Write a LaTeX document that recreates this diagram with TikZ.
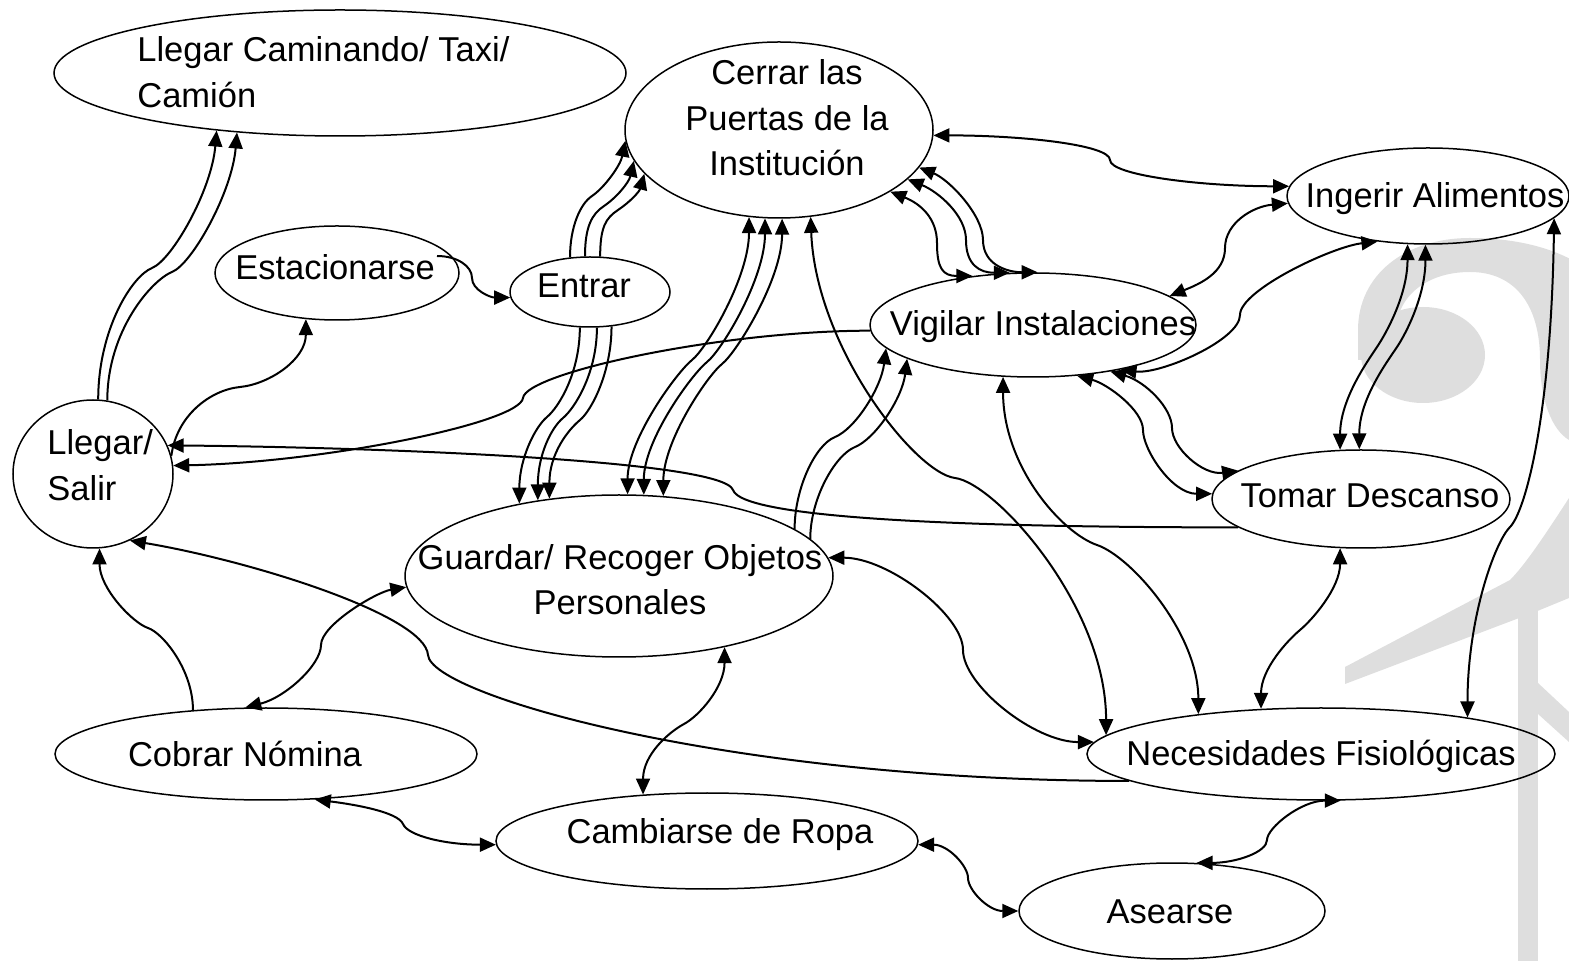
\documentclass[tikz,border=0pt]{standalone}
\usepackage{fontspec}
\setmainfont{Liberation Sans}
\usetikzlibrary{shapes.geometric,arrows.meta}
\definecolor{wm}{RGB}{222,222,222}
\begin{document}
\begin{tikzpicture}[x=0.5pt,y=-0.5pt,
  state/.style={draw,ellipse,line width=0.75pt,inner sep=0pt},
  lbl/.style={anchor=base,inner sep=0pt,font=\fontsize{17.25pt}{23pt}\selectfont},
  lblw/.style={lbl,anchor=base west},
  link/.style={line width=1pt,line join=round},
  one/.style={link,-{Triangle[length=8pt,width=7pt]}},
  two/.style={link,{Triangle[length=8pt,width=7pt]}-{Triangle[length=8pt,width=7pt]}}]
\useasboundingbox (0,0) rectangle (1569,961);

% light watermark figure on the right
\begin{scope}
\clip (0,0) rectangle (1569,961);
% head: ring open to the right
\fill[wm] (1358,360) -- (1358,330) .. controls (1358,275) and (1405,238) .. (1470,238)
  .. controls (1520,238) and (1569,250) .. (1600,280) -- (1600,440) -- (1569,440)
  .. controls (1552,430) and (1540,400) .. (1540,360)
  .. controls (1540,305) and (1515,272) .. (1470,272)
  .. controls (1425,272) and (1396,298) .. (1396,332) -- (1396,360) -- cycle;
\fill[wm] (1423,355) ellipse [x radius=31pt,y radius=24pt];
% tail
\fill[wm] (1569,498) .. controls (1545,535) and (1525,565) .. (1510,580) -- (1345,667)
  -- (1345,684) -- (1535,612) -- (1569,598) -- cycle;
% stem
\fill[wm] (1518,592) rectangle (1538,961);
\fill[wm] (1538,683) -- (1569,712) -- (1569,742) -- (1538,714) -- cycle;
\end{scope}

% activities
\node[state,minimum width=286pt,minimum height=63pt] (lc) at (340,73) {};
\node[state,minimum width=154pt,minimum height=88pt] (cp) at (779,130) {};
\node[state,minimum width=122pt,minimum height=47pt] (es) at (337,273) {};
\node[state,minimum width=80pt,minimum height=35pt] (en) at (590,292) {};
\node[state,minimum width=141pt,minimum height=48pt] (ia) at (1428,196) {};
\node[state,minimum width=163pt,minimum height=52pt] (vi) at (1033,325) {};
\node[state,minimum width=80pt,minimum height=74pt] (ls) at (93,474) {};
\node[state,minimum width=149pt,minimum height=49pt] (td) at (1361,499) {};
\node[state,minimum width=214pt,minimum height=81pt] (gr) at (619,576) {};
\node[state,minimum width=211pt,minimum height=46pt] (cn) at (266,754) {};
\node[state,minimum width=211pt,minimum height=48pt] (cr) at (707,841) {};
\node[state,minimum width=234pt,minimum height=46pt] (nf) at (1321,754) {};
\node[state,minimum width=153pt,minimum height=48pt] (ase) at (1172,911) {};

% labels
\node[lblw] (t-lc-1) at (137,62) {Llegar Caminando/ Taxi/};
\node[lblw] (t-lc-2) at (137,108) {Camión};
\node[lbl] (t-cp-1) at (787,85) {Cerrar las};
\node[lbl] (t-cp-2) at (787,131) {Puertas de la};
\node[lbl] (t-cp-3) at (787,176) {Institución};
\node[lbl] (t-es) at (335,280) {Estacionarse};
\node[lbl] (t-en) at (584,298) {Entrar};
\node[lbl] (t-ia) at (1435,208) {Ingerir Alimentos};
\node[lbl] (t-vi) at (1043,336) {Vigilar Instalaciones};
\node[lblw] (t-ls-1) at (47,455) {Llegar/};
\node[lblw] (t-ls-2) at (47,501) {Salir};
\node[lbl] (t-td) at (1370,508) {Tomar Descanso};
\node[lbl] (t-gr-1) at (620,570) {Guardar/ Recoger Objetos};
\node[lbl] (t-gr-2) at (620,615) {Personales};
\node[lbl] (t-cn) at (245,767) {Cobrar Nómina};
\node[lbl] (t-cr) at (720,843) {Cambiarse de Ropa};
\node[lbl] (t-nf) at (1321,766) {Necesidades Fisiológicas};
\node[lbl] (t-ase) at (1170,923) {Asearse};

% connectors
\draw[one] (ls.86) .. controls +(0,-70) and +(-20,8) .. (152,268) .. controls +(20,-8) and +(-5,60) .. (lc.-155);
\draw[one] (ls.79) .. controls +(0,-70) and +(-20,8) .. (172,272) .. controls +(20,-8) and +(-5,60) .. (lc.-150);
\draw[one] (ls.13) .. controls +(5,-40) and +(-30,3) .. (240,387) .. controls +(30,-3) and +(0,40) .. (es.-124);
\draw[one] ([shift={(100,-17)}]es.center) .. controls +(20,0) and +(0,-12) .. (472,278) .. controls +(0,12) and +(-20,0) .. (en.184);

\draw[one] (en.120) .. controls +(0,-30) and +(-12,8) .. (592,196) .. controls +(12,-8) and +(-5,25) .. (cp.-176);
\draw[one] (en.98) .. controls +(0,-30) and +(-12,8) .. (604,206) .. controls +(12,-8) and +(-5,22) .. (cp.-168);
\draw[one] (en.74) .. controls +(0,-30) and +(-12,8) .. (618,210) .. controls +(12,-8) and +(-5,18) .. (cp.-162);

\draw[one] (en.-106) .. controls +(0,45) and +(12,-10) .. (547,417) .. controls +(-12,10) and +(0,-45) .. (gr.144.7);
\draw[one] (en.-79) .. controls +(0,45) and +(12,-10) .. (563,418) .. controls +(-12,10) and +(0,-45) .. (gr.137.6);
\draw[one] (en.-58) .. controls +(0,45) and +(12,-10) .. (580,420) .. controls +(-12,10) and +(0,-45) .. (gr.132);

\draw[two] (cp.-109.8) .. controls +(0,60) and +(15,-12) .. (692,360) .. controls +(-15,12) and +(0,-55) .. (gr.84.4);
\draw[two] (cp.-99.7) .. controls +(0,60) and +(15,-12) .. (707,362) .. controls +(-15,12) and +(0,-55) .. (gr.73.4);
\draw[two] (cp.-88.7) .. controls +(0,60) and +(15,-12) .. (722,364) .. controls +(-15,12) and +(0,-55) .. (gr.61.5);

\draw[two] (cp.-70.8) .. controls +(5,130) and +(-40,-5) .. (955,478) .. controls +(40,5) and +(0,-130) .. (nf.175);
\draw[two] (vi.-120.4) .. controls +(0,90) and +(-35,-12) .. (1097,545) .. controls +(35,12) and +(0,-80) .. (nf.162.5);
\draw[two] (gr.5.2) .. controls +(60,0) and +(0,-35) .. (963,650) .. controls +(0,35) and +(-60,0) .. (nf.177.4);

\draw[two] (cp.-15.5) .. controls +(30,12) and +(0,-25) .. (983,240) .. controls +(0,25) and +(-30,0) .. (vi.85.6);
\draw[two] (cp.-21.9) .. controls +(30,12) and +(0,-25) .. (966,240) .. controls +(0,25) and +(-30,0) .. (vi.114);
\draw[two] (cp.-29.6) .. controls +(30,12) and +(0,-25) .. (937,243) .. controls +(0,25) and +(-30,0) .. (vi.141);

\draw[two] (cp.-2) .. controls +(90,0) and +(0,-15) .. (1110,160) .. controls +(0,15) and +(-90,0) .. (ia.176);
\draw[two] (ia.-177) .. controls +(-35,3) and +(0,-25) .. (1225,248) .. controls +(0,25) and +(30,-12) .. (vi.12.4);
\draw[two] (vi.-27) .. controls +(40,5) and +(0,25) .. (1240,315) .. controls +(0,-25) and +(-45,5) .. (ia.-138);

\draw[two] (vi.-49.6) .. controls +(30,8) and +(0,-20) .. (1143,430) .. controls +(0,20) and +(-40,0) .. (td.178);
\draw[two] (vi.-31) .. controls +(35,10) and +(0,-20) .. (1172,428) .. controls +(0,20) and +(-35,5) .. (td.167);

\draw[two] (ia.-113.9) .. controls +(0,50) and +(10,-15) .. (1377,347) .. controls +(-10,15) and +(0,-50) .. (td.113.4);
\draw[two] (ia.-93.6) .. controls +(0,50) and +(10,-15) .. (1397,347) .. controls +(-10,15) and +(0,-50) .. (td.92.3);

\draw[two] (ia.-10) .. controls +(-3,200) and +(15,-15) .. (1510,527) .. controls +(-15,15) and +(0,-100) .. (nf.14.9);
\draw[two] (td.-113.4) .. controls +(0,40) and +(12,-10) .. (1300,630) .. controls +(-12,10) and +(0,-40) .. (nf.143);

\draw[one] (td.-167) .. controls +(-250,0) and +(10,30) .. (733,490) .. controls +(-10,-30) and +(210,2) .. (ls.21);
\draw[one] (vi.-178) .. controls +(-150,0) and +(3,-25) .. (523,398) .. controls +(-3,25) and +(150,-3) .. (ls.6);

\draw[one] (gr.15.9) .. controls +(0,-40) and +(-20,8) .. (835,437) .. controls +(20,-8) and +(-5,40) .. (vi.-171);
\draw[one] (gr.11.4) .. controls +(0,-40) and +(-20,8) .. (855,447) .. controls +(20,-8) and +(-5,40) .. (vi.-165);

\draw[one] (cn.149.4) .. controls +(0,-40) and +(15,5) .. (148,628) .. controls +(-15,-5) and +(0,40) .. (ls.-85.4);
\draw[two] (cn.114.6) .. controls +(40,-10) and +(0,20) .. (321,645) .. controls +(0,-20) and +(-30,5) .. (gr.183);
\draw[two] (cn.-43) .. controls +(40,5) and +(-5,-12) .. (403,824) .. controls +(5,12) and +(-50,0) .. (cr.181.4);
\draw[two] (gr.-34.6) .. controls +(0,40) and +(15,-8) .. (684,724) .. controls +(-15,8) and +(0,-40) .. (cr.144);
\draw[two] (cr.-1.4) .. controls +(30,0) and +(0,-12) .. (968,878) .. controls +(0,12) and +(-30,0) .. (ase.180);
\draw[two] (nf.-67.5) .. controls +(-40,0) and +(0,-12) .. (1267,840) .. controls +(0,12) and +(40,0) .. (ase.63.1);
\draw[one] (nf.-172.7) .. controls +(-400,0) and +(3,40) .. (428,655) .. controls +(-3,-40) and +(120,20) .. (ls.-61.7);
\end{tikzpicture}
\end{document}
